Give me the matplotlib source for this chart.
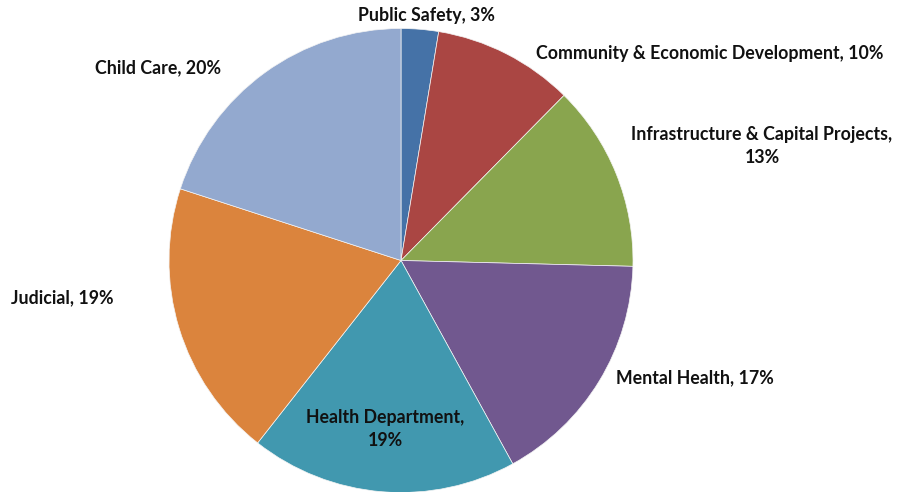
#!/usr/bin/env python3
"""
Budget share by department: pie chart with outside labels.
"""
import matplotlib
matplotlib.use('Agg')
import matplotlib.pyplot as plt

# data (percent of total, clockwise from 12 o'clock)
categories = ['Public Safety', 'Community & Economic Development',
              'Infrastructure & Capital Projects', 'Mental Health',
              'Health Department', 'Judicial', 'Child Care']
shares = [2.6, 9.8, 13.0, 16.6, 18.6, 19.4, 20.0]
label_breaks = [False, False, True, False, True, False, False]

colors = ['#4572A7', '#AA4643', '#89A54E', '#71588F',
          '#4198AF', '#DB843D', '#93A9CF']

# label anchor points in pixel space (x from left, y from top)
label_pos = [(426, 15), (710, 54), (762, 146), (695, 378),
             (385, 429), (62, 298), (158, 68)]

W, H = 900, 492
fig = plt.figure(figsize=(W / 100, H / 100), dpi=100)
ax = fig.add_axes([0, 0, 1, 1])

cx, cy, r = 401, H - 260.5, 232
ax.pie(shares, colors=colors, startangle=90, counterclock=False,
       center=(cx, cy), radius=r, frame=True,
       wedgeprops=dict(edgecolor='#f4f4f4', linewidth=0.5))
ax.set_xlim(0, W)
ax.set_ylim(0, H)
ax.set_aspect('equal')
ax.axis('off')

for name, val, brk, (px, py) in zip(categories, shares, label_breaks, label_pos):
    sep = ',\n' if brk else ', '
    txt = f'{name}{sep}{val:.0f}%'
    ax.text(px, H - py, txt, ha='center', va='center', fontsize=12.8,
            fontweight='bold', family='Lato', color='#111111',
            linespacing=1.45)

plt.savefig('out.png', dpi=100)
plt.close()
